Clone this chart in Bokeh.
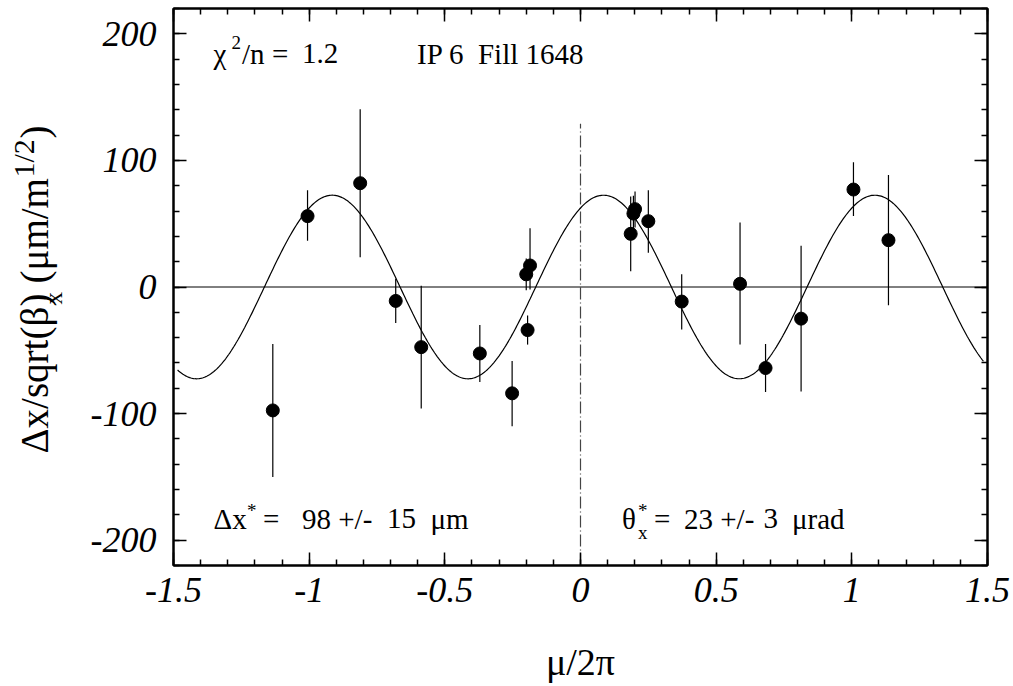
import numpy as np
from bokeh.plotting import figure
from bokeh.layouts import row
from bokeh.models import (Range1d, LinearAxis, SingleIntervalTicker, CustomJSTickFormatter,
                          Span, Label, ColumnDataSource)
from bokeh.core.properties import value, field
from bokeh.embed import file_html
from bokeh.resources import INLINE

# ---------------- data ----------------
mu = [-1.134, -1.006, -0.812, -0.681, -0.587, -0.371, -0.252, -0.200, -0.186, -0.195,
      0.185, 0.195, 0.201, 0.250, 0.373, 0.588, 0.682, 0.813, 1.006, 1.135]
dx = [-97.5, 56.0, 82.0, -11.0, -47.5, -52.5, -84.0, 10.0, 17.0, -34.0,
      42.0, 58.0, 61.5, 52.0, -11.5, 2.5, -64.0, -25.0, 77.0, 37.0]
err_lo = [-150.0, 36.5, 23.5, -28.5, -96.0, -75.0, -110.0, -2.5, -2.0, -45.5,
          12.5, 44.0, 47.0, 27.0, -33.5, -45.5, -83.0, -82.5, 56.0, -14.5]
err_hi = [-45.0, 76.5, 140.5, 6.5, 1.0, -30.0, -58.5, 22.5, 46.5, -22.5,
          71.5, 72.0, 75.5, 76.5, 10.0, 51.0, -45.0, 32.5, 98.5, 88.5]

# fit result drawn as the solid curve: A*cos(2*pi*(mu - mu0))
FIT_AMPLITUDE = 72.5
FIT_PHASE = 0.085
FIT_MU_MIN, FIT_MU_MAX = -1.485, 1.485

X_TICK_STEP = 0.5
Y_TICK_STEP = 100
X_RANGE = (-1.5, 1.5)
Y_RANGE = (-220, 220)
REF_LINE_X = 0.0
REF_LINE_TOP = 129.0

# ---------------- geometry ----------------
W, H = 1013, 686
STRIP = 70                          # left strip holding the rotated y-axis title
FL, FR, FT, FB = 173, 987, 8, 565   # frame edges in page pixels
NB = "\u00a0"
K = 0.4                             # baseline compensation (fraction of font size)
SERIF = "Liberation Serif"

p = figure(width=W - STRIP, height=H, x_range=Range1d(*X_RANGE), y_range=Range1d(*Y_RANGE),
           output_backend="svg", toolbar_location=None,
           min_border_left=FL - STRIP, min_border_right=W - FR, min_border_top=FT,
           min_border_bottom=H - FB)
p.grid.visible = False
p.outline_line_color = "black"
p.outline_line_width = 2
p.background_fill_color = "white"
p.border_fill_color = "white"

fmt = CustomJSTickFormatter(code="return tick.toString();")


def style_axis(ax, show_labels, standoff=16):
    ax.axis_line_width = 2
    ax.axis_line_color = "black"
    ax.major_tick_in = 13
    ax.major_tick_out = 0
    ax.minor_tick_in = 6
    ax.minor_tick_out = 0
    ax.major_tick_line_width = 1.5
    ax.minor_tick_line_width = 1.5
    ax.major_tick_line_color = "black"
    ax.minor_tick_line_color = "black"
    ax.formatter = fmt
    if show_labels:
        ax.major_label_text_font = SERIF
        ax.major_label_text_font_style = "italic"
        ax.major_label_text_font_size = "36px"
        ax.major_label_text_color = "black"
        ax.major_label_standoff = standoff
    else:
        ax.major_label_text_font_size = "0px"
        ax.major_label_standoff = 0


p.xaxis.ticker = SingleIntervalTicker(interval=X_TICK_STEP, num_minor_ticks=5)
p.yaxis.ticker = SingleIntervalTicker(interval=Y_TICK_STEP, num_minor_ticks=5)
style_axis(p.xaxis[0], True, 12)
style_axis(p.yaxis[0], True, 17)

top_ax = LinearAxis(ticker=SingleIntervalTicker(interval=X_TICK_STEP, num_minor_ticks=5))
right_ax = LinearAxis(ticker=SingleIntervalTicker(interval=Y_TICK_STEP, num_minor_ticks=5))
style_axis(top_ax, False)
style_axis(right_ax, False)
p.add_layout(top_ax, "above")
p.add_layout(right_ax, "right")

# ---------------- reference lines ----------------
p.add_layout(Span(location=0, dimension="width", line_color="black", line_width=1))
p.line([REF_LINE_X, REF_LINE_X], [Y_RANGE[0], REF_LINE_TOP], line_color="#444444",
       line_width=1.2, line_dash="12 3 1 3")

# ---------------- fit curve ----------------
mu_fit = np.linspace(FIT_MU_MIN, FIT_MU_MAX, 600)
y_fit = FIT_AMPLITUDE * np.cos(2 * np.pi * (mu_fit - FIT_PHASE))
p.line(mu_fit, y_fit, line_color="black", line_width=1.2)

# ---------------- data points with error bars ----------------
src = ColumnDataSource(dict(mu=mu, dx=dx, lo=err_lo, hi=err_hi))
p.segment(x0="mu", y0="lo", x1="mu", y1="hi", source=src, line_color="black", line_width=1.2)
p.scatter("mu", "dx", source=src, size=13, color="black")


# ---------------- text (page pixel positions -> data units) ----------------
def X(px):
    return X_RANGE[0] + (px - FL) * (X_RANGE[1] - X_RANGE[0]) / (FR - FL)


def Y(py):
    return Y_RANGE[1] - (py - FT) * (Y_RANGE[1] - Y_RANGE[0]) / (FB - FT)


MAIN = 29
SUP = 19
# (text, page x of start, page y of baseline, font size)
pieces = [
    ("χ", 213, 65, MAIN), ("2", 231, 50, SUP), ("/n", 241.5, 65, MAIN),
    ("=", 271.5, 65, MAIN), ("1.2", 301.5, 65, MAIN),
    ("IP 6" + NB + NB + "Fill 1648", 416.5, 65, MAIN),
    ("Δx", 213, 530, MAIN), ("*", 246.5, 518, SUP), ("=", 262.5, 530, MAIN),
    ("98 +/-", 301.5, 530, MAIN), ("15", 386.5, 530, MAIN), ("μm", 430, 530, MAIN),
    ("θ", 621.5, 530, MAIN), ("x", 637.5, 540, SUP), ("*", 637.5, 518, SUP),
    ("=", 653.5, 530, MAIN), ("23 +/-", 683.5, 530, MAIN), ("3", 763, 530, MAIN),
    ("μrad", 791.5, 530, MAIN),
]
tsrc = ColumnDataSource(dict(
    x=[X(px) for _, px, _, _ in pieces],
    y=[Y(py - K * fs) for _, _, py, fs in pieces],
    t=[s_ for s_, _, _, _ in pieces],
    fs=[f"{fs}px" for _, _, _, fs in pieces],
))
p.text(x="x", y="y", text="t", source=tsrc, text_font=value(SERIF),
       text_font_size=field("fs"), text_color="black", text_align="left",
       text_baseline="alphabetic")


def lab(fig, s_, x, y, size, angle=0.0, align="left", place=None):
    L = Label(x=x, y=y, text=s_, text_font=SERIF, text_font_size=f"{size}px",
              text_color="black", text_align=align, text_baseline="alphabetic", angle=angle)
    if place is None:
        fig.add_layout(L)
    else:
        fig.add_layout(L, place)


# x-axis title in the bottom side panel
lab(p, "μ/2π", X(580), Y(677 - K * 38), 38, align="center", place="below")

# ---------------- left strip with the rotated y-axis title ----------------
s = figure(width=STRIP, height=H, x_range=Range1d(0, STRIP), y_range=Range1d(FB, FT),
           output_backend="svg", toolbar_location=None,
           min_border_left=0, min_border_right=0, min_border_top=FT, min_border_bottom=H - FB,
           x_axis_location=None, y_axis_location=None)
s.grid.visible = False
s.outline_line_color = None
s.background_fill_color = "white"
s.border_fill_color = "white"


def r(sx, px, py, size):
    lab(s, sx, px - K * size, py, size, angle=np.pi / 2)


YL = 39
r("Δx/sqrt(β", 50, 453, YL)
r("x", 63, 304, 25)
r(")", 50, 306, YL)
r("(μm/m", 50, 283, YL)
r("1/2", 35, 177, 30)
r(")", 50, 138, YL)

layout = row(s, p, spacing=0)
open("out.html", "w").write(file_html(layout, INLINE))
